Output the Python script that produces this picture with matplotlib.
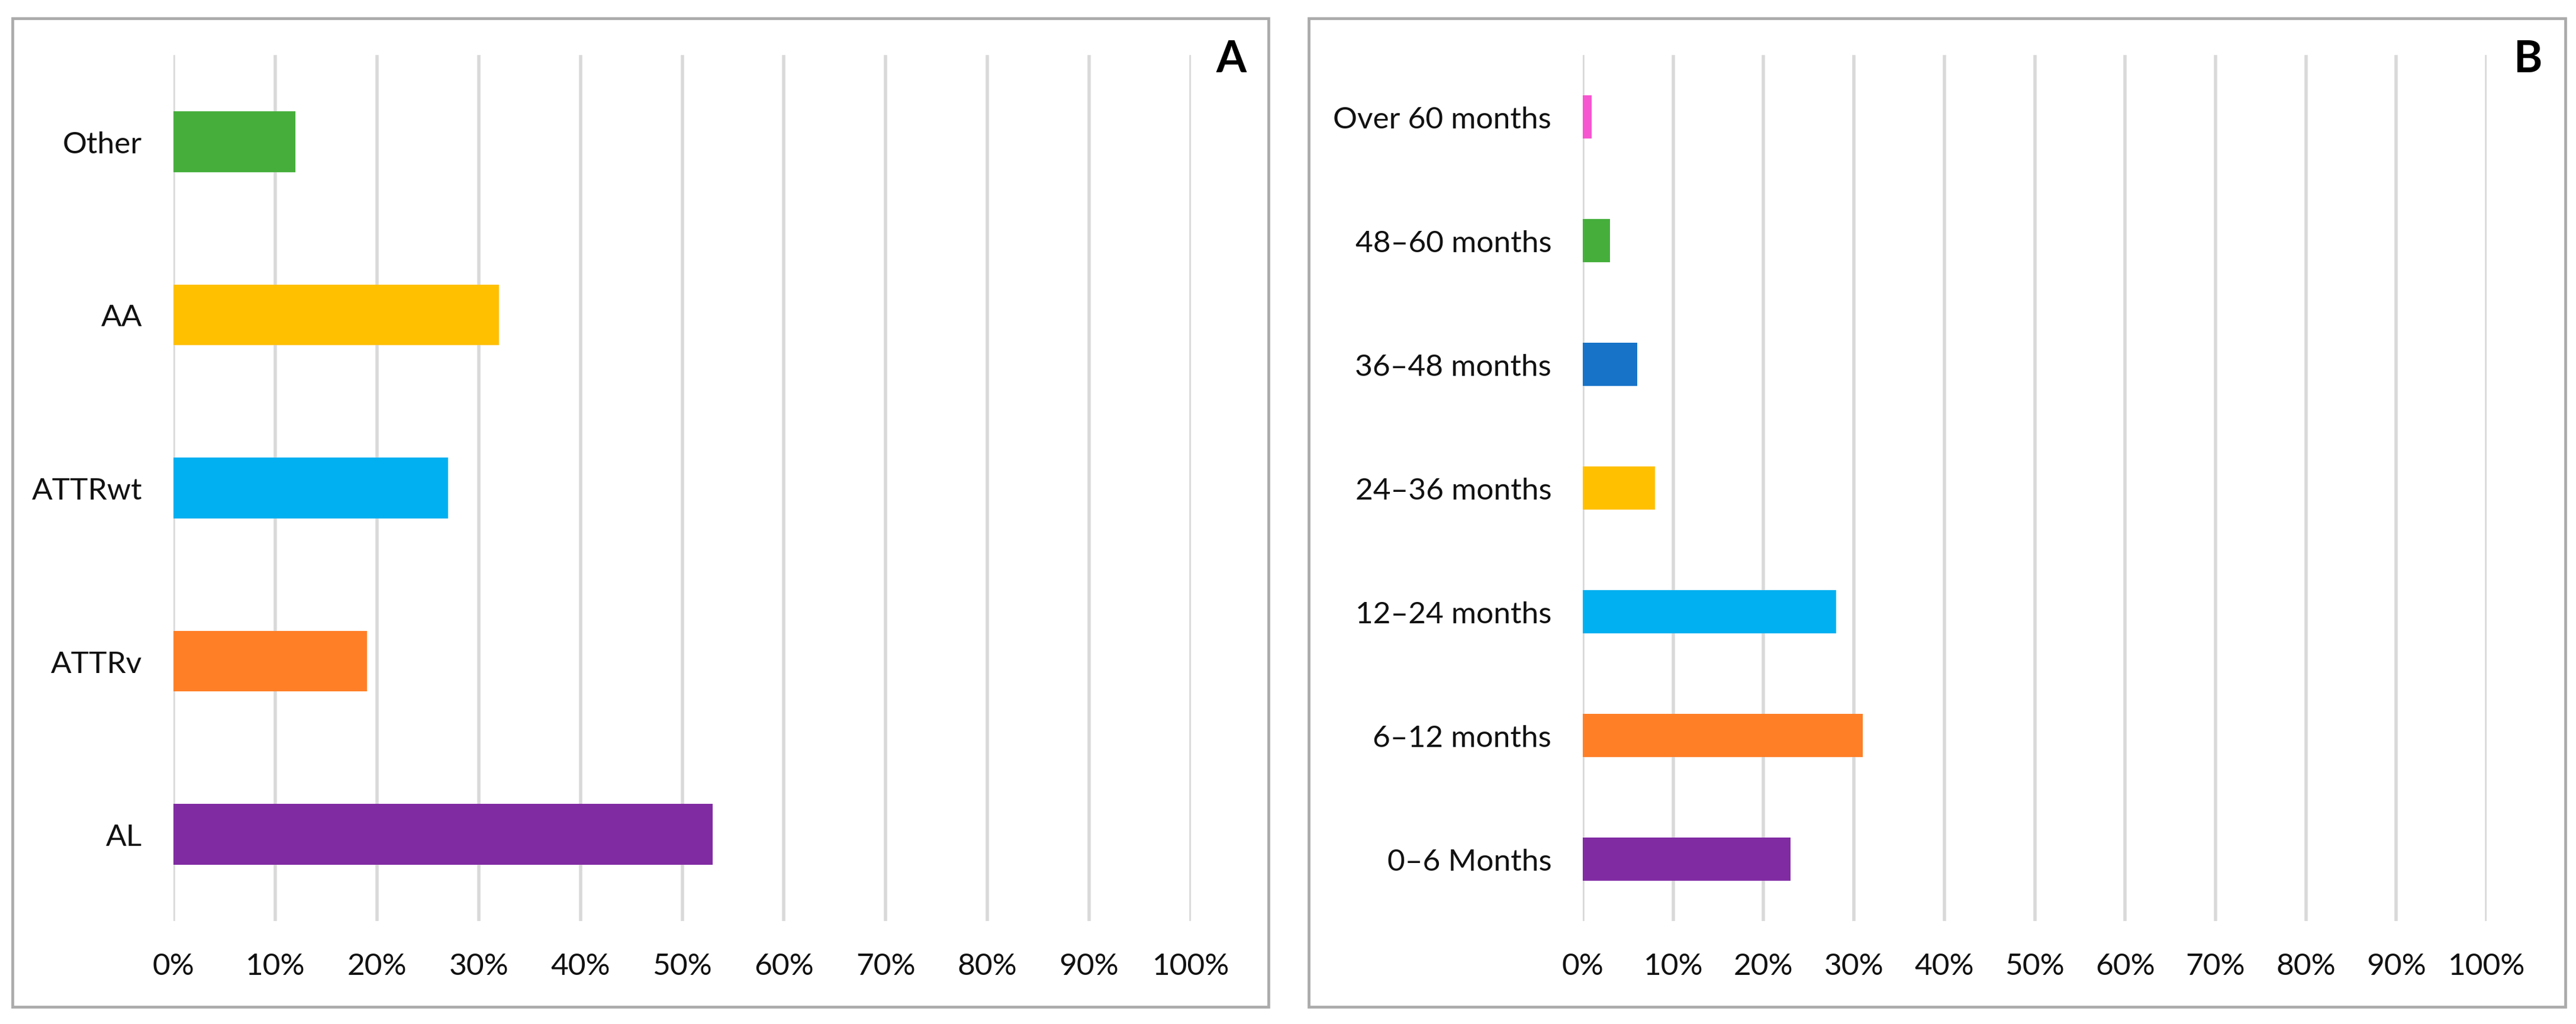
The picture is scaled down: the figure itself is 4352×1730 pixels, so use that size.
import matplotlib.pyplot as plt
from matplotlib.patches import Rectangle
from matplotlib.ticker import PercentFormatter

plt.rcParams['font.family'] = ['Lato', 'DejaVu Sans']

# panel A : type
cat_a = ["AL", "ATTRv", "ATTRwt", "AA", "Other"]
val_a = [0.53, 0.19, 0.27, 0.32, 0.12]
col_a = ["#812BA3", "#FF7F27", "#00B0F0", "#FFC000", "#46AF3C"]

# panel B : delay
cat_b = ["0\u20136 Months", "6\u201312 months", "12\u201324 months", "24\u201336 months",
         "36\u201348 months", "48\u201360 months", "Over 60 months"]
val_b = [0.23, 0.31, 0.28, 0.08, 0.06, 0.03, 0.01]
col_b = ["#812BA3", "#FF7F27", "#00B0F0", "#FFC000", "#1773C8", "#46AF3C", "#F656D0"]

xticks = [i / 10 for i in range(11)]

W, H = 4352, 1731
fig = plt.figure(figsize=(W / 200, H / 200), dpi=200)

# frames around each panel
for x0, x1 in [(21, 2143), (2211, 4334)]:
    fig.patches.append(Rectangle((x0 / W, 1 - 1702 / H), (x1 - x0) / W, (1702 - 32) / H,
                                 transform=fig.transFigure, fill=False,
                                 edgecolor="#ABABAB", lw=1.7))

def panel(rect, cats, vals, cols, letter, lx):
    ax = fig.add_axes(rect)
    ax.barh(range(len(cats)), vals, height=0.35, color=cols, zorder=3)
    ax.set_xlim(0, 1)
    ax.set_ylim(-0.5, len(cats) - 0.5)
    ax.set_xticks(xticks)
    ax.xaxis.set_major_formatter(PercentFormatter(1.0, decimals=0))
    ax.set_yticks(range(len(cats)))
    ax.set_yticklabels(cats)
    ax.grid(axis="x", color="#D9D9D9", lw=2.0, zorder=0)
    for s in ax.spines.values():
        s.set_visible(False)
    ax.tick_params(axis="x", length=0, pad=19, labelsize=18.5, colors="#111111")
    ax.tick_params(axis="y", length=0, pad=19, labelsize=18.5, colors="#111111")
    fig.text(lx, 1 - 100 / H, letter, fontsize=26.5, fontweight="bold",
             ha="center", va="center", color="black")
    return ax

top = 94 / H
bot = 1 - 1557 / H
panel([293 / W, bot, (2012 - 293) / W, 1 - top - bot], cat_a, val_a, col_a, "A", 2080 / W)
panel([2674 / W, bot, (4201 - 2674) / W, 1 - top - bot], cat_b, val_b, col_b, "B", 4270 / W)

fig.savefig("out.png", dpi=200, facecolor="white")
